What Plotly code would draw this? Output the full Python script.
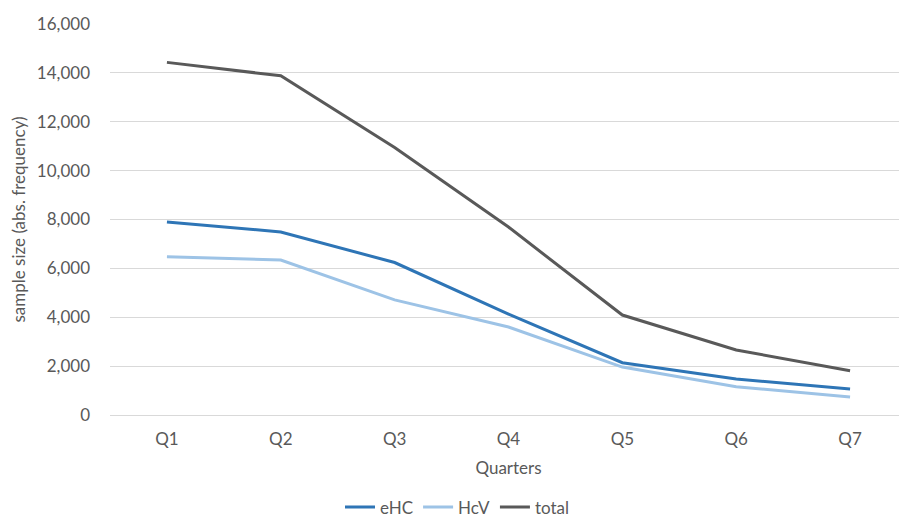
import plotly.graph_objects as go

quarters = ["Q1", "Q2", "Q3", "Q4", "Q5", "Q6", "Q7"]
ehc = [7900, 7490, 6240, 4130, 2140, 1470, 1060]
hcv = [6480, 6340, 4710, 3600, 1960, 1160, 740]
total = [14430, 13880, 10950, 7690, 4090, 2660, 1810]

FONT = "Lato, Carlito, Calibri, sans-serif"
GREY = "#595959"
FS = 17

fig = go.Figure()
fig.add_trace(go.Scatter(x=quarters, y=ehc, name="eHC", mode="lines",
                         line=dict(color="#2E75B6", width=3)))
fig.add_trace(go.Scatter(x=quarters, y=hcv, name="HcV", mode="lines",
                         line=dict(color="#9DC3E6", width=3)))
fig.add_trace(go.Scatter(x=quarters, y=total, name="total", mode="lines",
                         line=dict(color="#595959", width=3)))

fig.update_layout(
    width=899, height=516,
    margin=dict(l=102, r=0, t=16, b=109),
    plot_bgcolor="white", paper_bgcolor="white",
    font=dict(family=FONT, size=FS, color=GREY),
    showlegend=True,
    legend=dict(orientation="h", xref="container", yref="container",
                x=0.5, xanchor="center", y=0.032, yanchor="middle",
                font=dict(size=FS, color=GREY), itemwidth=30,
                traceorder="normal"),
    xaxis=dict(range=[-0.5, 6.5], showgrid=False, zeroline=False,
               showline=False, ticks="", tickfont=dict(size=FS, color=GREY),
               ticklabelstandoff=12,
               title=dict(text="Quarters", font=dict(size=FS, color=GREY), standoff=14)),
    yaxis=dict(range=[0, 16000], dtick=2000, tickformat=",d",
               showgrid=True, gridcolor="#D9D9D9", gridwidth=1,
               zeroline=True, zerolinecolor="#D9D9D9", zerolinewidth=1,
               showline=False, ticks="", tickfont=dict(size=FS, color=GREY),
               ticklabelstandoff=19,
               title=dict(text="sample size (abs. frequency)",
                          font=dict(size=FS, color=GREY), standoff=16)),
)

fig.write_html("out.html")
